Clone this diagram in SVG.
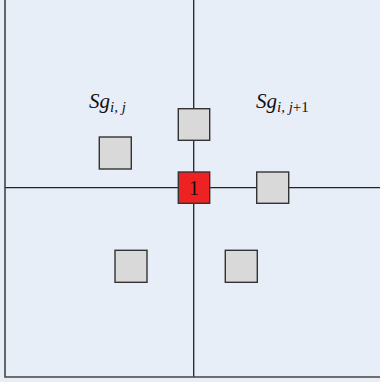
<svg xmlns="http://www.w3.org/2000/svg" width="380" height="382" viewBox="0 0 380 382">
<style>
.bg{fill:#E8EEF7}
.ln{stroke:#222;stroke-width:1.3;fill:none}
.bd{stroke:#444;stroke-width:1.6;fill:none}
.sq{fill:#D9D9D9;stroke:#333;stroke-width:1.4}
.red{fill:#EE2222;stroke:#333;stroke-width:1.4}
.lab{font-family:"Liberation Serif",serif;font-style:italic;font-size:21px;fill:#111}
.sub{font-size:15px}
.num{font-family:"Liberation Serif",serif;font-size:20px;fill:#111}
</style>
<rect class="bg" x="0" y="0" width="380" height="382"/>
<g id="grid">
<line class="ln" x1="193.7" y1="0" x2="193.7" y2="377"/>
<line class="ln" x1="5" y1="187.7" x2="380" y2="187.7"/>
<polyline class="bd" points="5,0 5,377 380,377"/>
</g>
<g id="n-top"><rect class="sq" x="178.3" y="108.7" width="31.4" height="31.6"/></g>
<g id="n-left"><rect class="sq" x="99.3" y="137" width="32" height="32"/></g>
<g id="n-red"><rect class="red" x="178.3" y="172" width="31.4" height="31.3"/><text class="num" x="194" y="195" text-anchor="middle">1</text></g>
<g id="n-right"><rect class="sq" x="256.7" y="172" width="32" height="31.3"/></g>
<g id="n-bl"><rect class="sq" x="115" y="250.3" width="32" height="32"/></g>
<g id="n-br"><rect class="sq" x="225.3" y="250.3" width="32" height="32"/></g>
<g id="labels">
<text class="lab" x="89" y="108">Sg<tspan class="sub" dy="4">i, j</tspan></text>
<text class="lab" x="256" y="108">Sg<tspan class="sub" dy="4">i, j</tspan><tspan class="sub" font-style="normal">+1</tspan></text>
</g>
</svg>
